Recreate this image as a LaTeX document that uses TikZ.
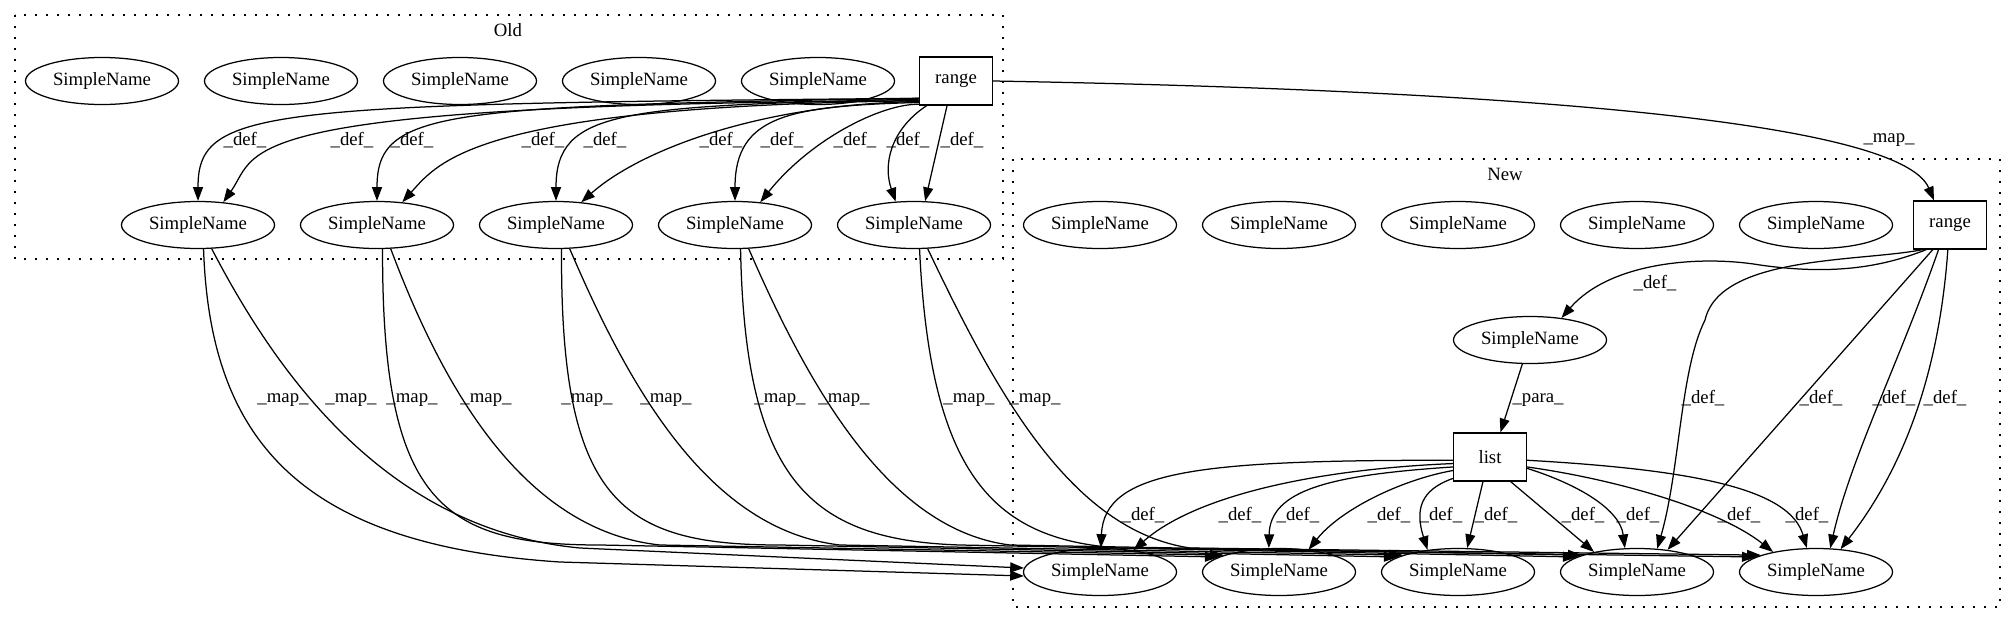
\documentclass[tikz,border=0pt]{standalone}
\usepackage{fontspec}
\setmainfont{Liberation Serif}
\usetikzlibrary{arrows.meta,shapes.geometric}
\tikzset{>={Triangle[length=11pt,width=8pt]}}
\tikzset{
    sname/.style={draw, ellipse, line width=1pt, minimum width=122.4pt, minimum height=37.6pt, inner sep=0pt, font=\fontsize{15}{17}\selectfont},
    tok/.style={draw, rectangle, line width=1pt, minimum width=58.4pt, minimum height=38.4pt, inner sep=0pt, font=\fontsize{15}{17}\selectfont},
    edge/.style={->, line width=1pt},
    elab/.style={inner sep=0pt, font=\fontsize{15}{17}\selectfont},
    cluster/.style={line width=1pt, dash pattern=on 1.6pt off 7.2pt}
}

\begin{document}
\begin{tikzpicture}[x=0.8pt, y=-0.8pt]
        \useasboundingbox (0,0) rectangle (2016,624);

        %clusters
        \draw[cluster] (15,15) rectangle (1003,259);
        \node[elab] (oldlbl) at (508,30) {Old};
        \draw[cluster] (1013,159) rectangle (2000,607);
        \node[elab] (newlbl) at (1505,174) {New};

        %old nodes
        \node[sname] (osa1) at (102,81) {SimpleName};
        \node[sname] (osa2) at (281,81) {SimpleName};
        \node[sname] (osa3) at (460,81) {SimpleName};
        \node[sname] (osa4) at (639,81) {SimpleName};
        \node[sname] (osa5) at (818,81) {SimpleName};
        \node[tok] (oldrange) at (956,81) {range};

        \node[sname] (osb1) at (198,225) {SimpleName};
        \node[sname] (osb2) at (377,225) {SimpleName};
        \node[sname] (osb3) at (556,225) {SimpleName};
        \node[sname] (osb4) at (735,225) {SimpleName};
        \node[sname] (osb5) at (914,225) {SimpleName};

        %new nodes
        \node[sname] (nsa1) at (1100,225) {SimpleName};
        \node[sname] (nsa2) at (1279,225) {SimpleName};
        \node[sname] (nsa3) at (1458,225) {SimpleName};
        \node[sname] (nsa4) at (1637,225) {SimpleName};
        \node[sname] (nsa5) at (1816,225) {SimpleName};
        \node[tok] (newrange) at (1950,225) {range};

        \node[sname] (nmid) at (1530,340) {SimpleName};
        \node[tok] (nlist) at (1490,457) {list};

        \node[sname] (nsb1) at (1100,572) {SimpleName};
        \node[sname] (nsb2) at (1279,572) {SimpleName};
        \node[sname] (nsb3) at (1458,572) {SimpleName};
        \node[sname] (nsb4) at (1637,572) {SimpleName};
        \node[sname] (nsb5) at (1816,572) {SimpleName};

        %old range defs
        \draw[edge] (oldrange.205) .. controls (260,104) and (198,108) .. (osb1);
        \draw[edge] (oldrange.208) .. controls (220,104) and (260,150) .. (osb1.42);
        \draw[edge] (oldrange.205) .. controls (440,106) and (377,110) .. (osb2);
        \draw[edge] (oldrange.208) .. controls (480,106) and (440,160) .. (osb2.42);
        \draw[edge] (oldrange.206) .. controls (620,106) and (556,110) .. (osb3);
        \draw[edge] (oldrange.209) .. controls (760,104) and (640,150) .. (osb3.42);
        \draw[edge] (oldrange.210) .. controls (790,106) and (735,115) .. (osb4);
        \draw[edge] (oldrange.212) .. controls (880,104) and (810,140) .. (osb4.42);
        \draw[edge] (oldrange.220) .. controls (890,130) and (883,165) .. (osb5.128);
        \draw[edge] (oldrange.250) -- (osb5.65);

        \node[elab] (od1) at (245,140) {\_def\_};
        \node[elab] (od2) at (352,140) {\_def\_};
        \node[elab] (od3) at (412,140) {\_def\_};
        \node[elab] (od4) at (543,140) {\_def\_};
        \node[elab] (od5) at (605,140) {\_def\_};
        \node[elab] (od6) at (721,140) {\_def\_};
        \node[elab] (od7) at (782,140) {\_def\_};
        \node[elab] (od8) at (855,140) {\_def\_};
        \node[elab] (od9) at (908,140) {\_def\_};
        \node[elab] (od10) at (962,140) {\_def\_};

        %range to range
        \draw[edge] (oldrange.east) .. controls (1500,90) and (1900,120) .. ([xshift=-12.8pt]newrange.north);
        \node[elab] (rmap) at (1889,140) {\_map\_};

        %new range defs
        \draw[edge] (newrange.226) .. controls (1880,268) and (1830,275) .. (1760,265) .. controls (1700,255) and (1610,262) .. (nmid.35);
        \draw[edge] (newrange.222) .. controls (1860,262) and (1720,255) .. (1705,320) .. controls (1680,370) and (1680,470) .. (nsb4.49);
        \draw[edge] (newrange.235) -- (nsb4.36);
        \draw[edge] (newrange.245) .. controls (1900,360) and (1850,460) .. (nsb5.59);
        \draw[edge] (newrange.265) .. controls (1940,360) and (1910,460) .. (nsb5.43);

        \node[elab] (nd1) at (1655,283) {\_def\_};
        \node[elab] (nd2) at (1703,398) {\_def\_};
        \node[elab] (nd3) at (1821,398) {\_def\_};
        \node[elab] (nd4) at (1894,398) {\_def\_};
        \node[elab] (nd5) at (1945,398) {\_def\_};

        %para
        \draw[edge] (nmid) -- (nlist.67);
        \node[elab] (npara) at (1538,400) {\_para\_};

        %list defs
        \draw[edge] (nlist.185) .. controls (1200,460) and (1104,470) .. (nsb1);
        \draw[edge] (nlist.190) .. controls (1300,470) and (1190,500) .. (nsb1.33);
        \draw[edge] (nlist.195) .. controls (1330,475) and (1270,490) .. (nsb2.113);
        \draw[edge] (nlist.200) .. controls (1400,480) and (1340,510) .. (nsb2.37);
        \draw[edge] (nlist.210) .. controls (1420,490) and (1415,510) .. (nsb3.144);
        \draw[edge] (nlist.254) -- (nsb3.69);
        \draw[edge] (nlist.310) -- (nsb4.155);
        \draw[edge] (nlist.343) .. controls (1580,485) and (1620,510) .. (nsb4.117);
        \draw[edge] (nlist.345) .. controls (1620,480) and (1720,510) .. (nsb5.155);
        \draw[edge] (nlist.355) .. controls (1700,470) and (1790,490) .. (nsb5.111);

        \node[elab] (ld1) at (1143,515) {\_def\_};
        \node[elab] (ld2) at (1240,515) {\_def\_};
        \node[elab] (ld3) at (1298,515) {\_def\_};
        \node[elab] (ld4) at (1389,515) {\_def\_};
        \node[elab] (ld5) at (1441,515) {\_def\_};
        \node[elab] (ld6) at (1496,515) {\_def\_};
        \node[elab] (ld7) at (1583,515) {\_def\_};
        \node[elab] (ld8) at (1638,515) {\_def\_};
        \node[elab] (ld9) at (1739,515) {\_def\_};
        \node[elab] (ld10) at (1807,515) {\_def\_};

        %maps old to new
        \draw[edge] (osb1.283) .. controls (210,440) and (300,545) .. (560,562) -- (nsb1.183);
        \draw[edge] (osb1.300) .. controls (280,380) and (390,530) .. (580,548) -- (nsb1.177);
        \draw[edge] (osb2.283) .. controls (382,500) and (440,545) .. (600,545) -- (nsb2.166);
        \draw[edge] (osb2.300) .. controls (440,380) and (520,530) .. (660,545) -- (nsb2.163);
        \draw[edge] (osb3.283) .. controls (560,500) and (620,545) .. (780,545) -- (nsb3.166);
        \draw[edge] (osb3.300) .. controls (630,390) and (710,530) .. (840,545) -- (nsb3.163);
        \draw[edge] (osb4.283) .. controls (745,480) and (810,540) .. (960,545) -- (nsb4.166);
        \draw[edge] (osb4.300) .. controls (810,390) and (890,530) .. (1010,545) -- (nsb4.163);
        \draw[edge] (osb5.283) .. controls (930,470) and (990,540) .. (1120,548) -- (nsb5.166);
        \draw[edge] (osb5.300) .. controls (995,390) and (1070,530) .. (1190,548) -- (nsb5.163);

        \node[elab] (om1) at (283,400) {\_map\_};
        \node[elab] (om2) at (351,400) {\_map\_};
        \node[elab] (om3) at (412,400) {\_map\_};
        \node[elab] (om4) at (486,400) {\_map\_};
        \node[elab] (om5) at (587,400) {\_map\_};
        \node[elab] (om6) at (666,400) {\_map\_};
        \node[elab] (om7) at (780,400) {\_map\_};
        \node[elab] (om8) at (844,400) {\_map\_};
        \node[elab] (om9) at (969,400) {\_map\_};
        \node[elab] (om10) at (1035,400) {\_map\_};

    \end{tikzpicture}
\end{document}
